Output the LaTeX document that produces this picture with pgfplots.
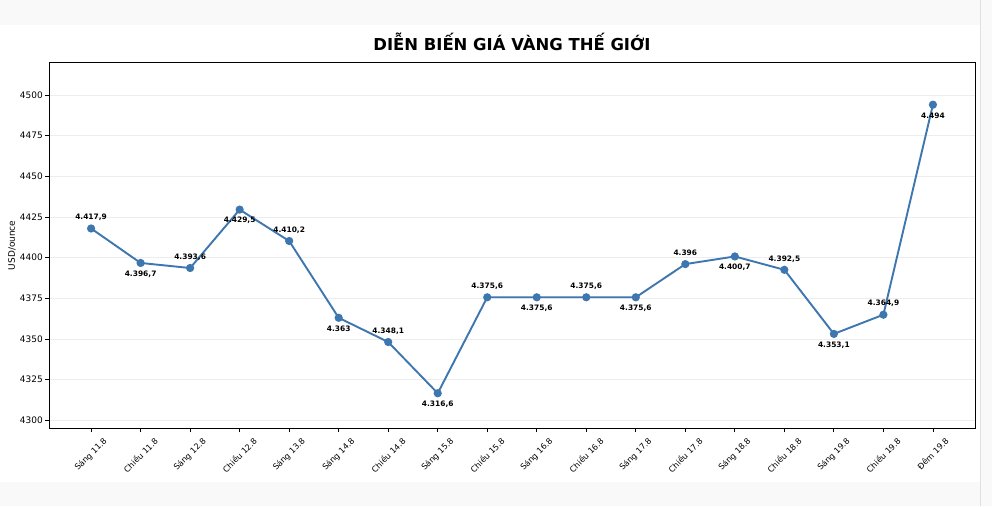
\documentclass[border=0pt]{standalone}
\usepackage{fontspec}
\setmainfont{DejaVu Sans}
\usepackage{graphicx}
\usepackage{pgfplots}
\usepackage{pgfplotstable}
\pgfplotsset{compat=1.18}
\definecolor{goldline}{RGB}{62,118,175}
\definecolor{band}{RGB}{249,249,249}
\pgfplotstableread{
x y lab off
0 4417.9 4.417,9 11
1 4396.7 4.396,7 -11
2 4393.6 4.393,6 11
3 4429.5 4.429,5 -11
4 4410.2 4.410,2 11
5 4363.0 4.363 -11
6 4348.1 4.348,1 11
7 4316.6 4.316,6 -11
8 4375.6 4.375,6 11
9 4375.6 4.375,6 -11
10 4375.6 4.375,6 11
11 4375.6 4.375,6 -11
12 4396.0 4.396 11
13 4400.7 4.400,7 -11
14 4392.5 4.392,5 11
15 4353.1 4.353,1 -11
16 4364.9 4.364,9 11
17 4494.0 4.494 -11
}\gold
\begin{document}
\begin{tikzpicture}
\fill[white] (0,0) rectangle (992bp,506bp);
\fill[band] (0,481bp) rectangle (992bp,506bp);
\fill[band] (0,0) rectangle (992bp,24bp);
\fill[band] (980bp,0) rectangle (992bp,506bp);
\draw[black!12, line width=0.8bp] (980bp,0) -- (980bp,506bp);
\node[font=\fontsize{16.5}{19}\selectfont\bfseries] at (512bp,465bp) {DIỄN BIẾN GIÁ VÀNG THẾ GIỚI};
\begin{axis}[
  at={(49bp,78bp)}, anchor=south west, scale only axis,
  width=926bp, height=366bp,
  xmin=-0.85, xmax=17.85, ymin=4295, ymax=4520,
  xtick={0,...,17},
  xticklabels={{\rotatebox{45}{Sáng 11.8}},{\rotatebox{45}{Chiều 11.8}},{\rotatebox{45}{Sáng 12.8}},{\rotatebox{45}{Chiều 12.8}},{\rotatebox{45}{Sáng 13.8}},{\rotatebox{45}{Sáng 14.8}},{\rotatebox{45}{Chiều 14.8}},{\rotatebox{45}{Sáng 15.8}},{\rotatebox{45}{Chiều 15.8}},{\rotatebox{45}{Sáng 16.8}},{\rotatebox{45}{Chiều 16.8}},{\rotatebox{45}{Sáng 17.8}},{\rotatebox{45}{Chiều 17.8}},{\rotatebox{45}{Sáng 18.8}},{\rotatebox{45}{Chiều 18.8}},{\rotatebox{45}{Sáng 19.8}},{\rotatebox{45}{Chiều 19.8}},{\rotatebox{45}{Đêm 19.8}}},
  ytick={4300,4325,...,4500},
  ymajorgrids, major grid style={color=black!7, line width=0.7bp},
  tick align=outside, tick pos=left, major tick length=4bp,
  axis line style={line width=0.8bp},
  every tick/.style={black, line width=0.8bp},
  xticklabel style={anchor=north, font=\fontsize{8.2}{9}\selectfont, inner sep=0pt, yshift=-4.5bp},
  yticklabel style={font=\fontsize{9}{10}\selectfont, inner sep=1bp, xshift=-1bp},
  /pgf/number format/assume math mode=true,
  /pgf/number format/1000 sep={},
  ylabel={USD/ounce},
  ylabel style={at={(axis description cs:0,0.5)}, anchor=center, yshift=37bp, font=\fontsize{9}{10}\selectfont},
  clip=false,
]
\addplot[color=goldline, line width=1.9bp, mark=*, mark size=3.1bp,
  mark options={fill=goldline, draw=goldline, solid},
  point meta=explicit symbolic, nodes near coords,
  visualization depends on={\thisrow{off}\as\off},
  every node near coord/.append style={anchor=center, yshift=\off, text=black, inner sep=0pt, font=\fontsize{7.5}{9}\selectfont\bfseries}]
  table[x=x, y=y, meta=lab]{\gold};
\end{axis}
\end{tikzpicture}
\end{document}
